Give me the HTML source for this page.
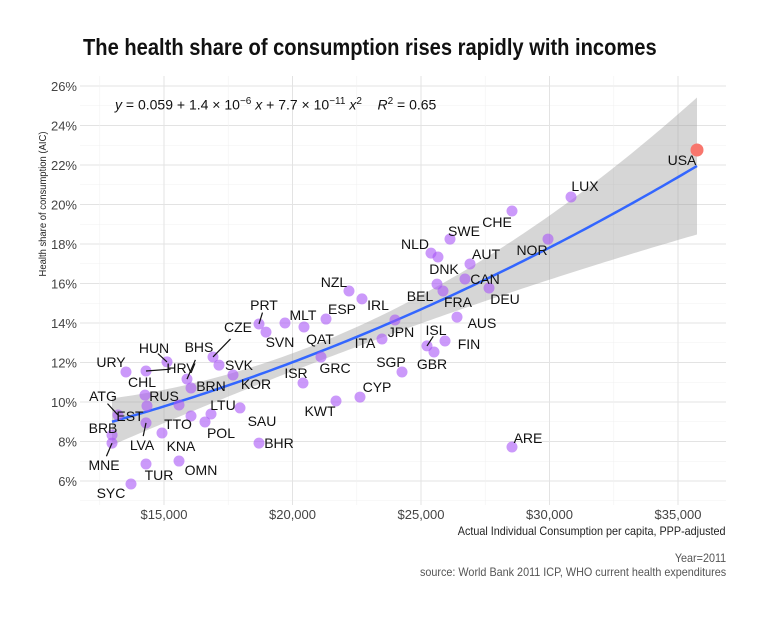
<!DOCTYPE html>
<html><head><meta charset="utf-8">
<style>
body{margin:0;background:#fff;width:766px;height:614px;overflow:hidden;font-family:"Liberation Sans",sans-serif}
svg text{font-family:"Liberation Sans",sans-serif}
.lab{font-family:"Liberation Sans",sans-serif;font-size:14px;fill:#111}
</style></head><body>
<svg id="chart" width="766" height="614"></svg>
<script>
const countries=["SYC","TUR","MNE","BRB","ATG","EST","CHL","LVA","URY","HRV","HUN","BHS","CZE","SVK","BRN","KOR","RUS","TTO","LTU","SAU","POL","KNA","OMN","BHR","ISR","PRT","SVN","MLT","QAT","ESP","GRC","NZL","IRL","JPN","ITA","KWT","CYP","SGP","ISL","GBR","FIN","AUS","FRA","BEL","NLD","DNK","SWE","AUT","CAN","DEU","CHE","NOR","ARE","LUX","USA"];
const aic=[13716,14300,12977,12977,13210,14338,14261,14300,13521,14300,15117,15895,16907,17140,16051,17685,15584,16051,16829,17957,16595,14922,15584,18696,20409,18696,18969,19708,20447,21304,21109,22198,22704,23988,23482,21693,22626,24261,25233,25506,25934,26401,25856,25623,25389,25661,26128,26907,26712,27646,28541,29942,28541,30837,35739];
const share=[5.85,6.86,7.92,8.33,9.34,9.80,10.35,8.94,11.52,11.57,12.03,11.16,12.28,11.87,10.71,11.37,9.85,9.29,9.39,9.70,8.99,8.43,7.01,7.92,10.96,13.95,13.54,14.0,13.80,14.20,12.28,15.62,15.22,14.15,13.19,10.05,10.25,11.52,12.84,12.53,13.09,14.30,15.62,15.97,17.54,17.34,18.25,16.99,16.23,15.77,19.67,18.25,7.72,20.38,22.76];
const labelDx=[-20,13,-8,-9,-15,-17,-3,-4,-15,35,-13,12,25,20,20,23,-15,-13,12,22,16,19,22,20,-7,5,14,18,16,16,14,-15,16,6,-17,-16,17,-11,9,-2,24,25,15,-17,-16,6,14,16,20,16,-15,-16,16,14,-15];
const labelDy=[9,11,22,-7,-19,10,-13,22,-10,-3,-14,-32,-30,0,-2,9,-9,8,-9,13,11,13,9,0,-10,-19,10,-8,12,-10,11,-9,6,12,4,10,-10,-10,-16,12,3,6,11,12,-9,12,-8,-10,0,11,11,11,-9,-11,10];
const leaders=["MNE","ATG","LVA","HRV","HUN","BHS","CZE","PRT","ISL"];
const yTicks=[6,8,10,12,14,16,18,20,22,24,26];
const xTicks=[15000,20000,25000,30000,35000];
const xTickLabels=["$15,000","$20,000","$25,000","$30,000","$35,000"];
const fitCoef=[5.744,0.1355,0.008897];

const NS="http://www.w3.org/2000/svg";
const svg=document.getElementById('chart');
function X(v){return 164+(v-15000)/1000*25.7;}
function Y(v){return 86+(26-v)*19.75;}
function el(t,a,p){const e=document.createElementNS(NS,t);for(const k in a)e.setAttribute(k,a[k]);(p||svg).appendChild(e);return e;}
const L=80,R=726,T=76,B=505;
const g=el('g',{});

for(let v=5;v<=27;v+=1){const y=Y(v);if(y<T||y>B)continue;const major=v%2===0;
 el('line',{x1:L,x2:R,y1:y,y2:y,stroke:major?'#e3e3e3':'#f1f1f1','stroke-width':major?1:0.6},g);}
for(let v=12500;v<=37500;v+=2500){const x=X(v);if(x<L||x>R)continue;const major=v%5000===0;
 el('line',{x1:x,x2:x,y1:T,y2:B,stroke:major?'#e3e3e3':'#f1f1f1','stroke-width':major?1:0.6},g);}
yTicks.forEach(v=>{const t=el('text',{x:77,y:Y(v)+5,'text-anchor':'end','font-size':13,fill:'#444'});t.textContent=v+'%';
});
xTicks.forEach((v,i)=>{const t=el('text',{x:X(v),y:519,'text-anchor':'middle','font-size':13,fill:'#444'});t.textContent=xTickLabels[i];
});
function fit(x){const u=x/1000;return fitCoef[0]+fitCoef[1]*u+fitCoef[2]*u*u;}
function half(x){const du=x/1000-20.5;return 0.45+0.013*du*du;}
let up=[],lo=[],ln=[];
for(let x=12977;x<=35739;x+=200){up.push(X(x)+','+Y(fit(x)+half(x)));lo.unshift(X(x)+','+Y(fit(x)-half(x)));ln.push(X(x)+','+Y(fit(x)));}
const xe=35739;up.push(X(xe)+','+Y(fit(xe)+half(xe)));lo.unshift(X(xe)+','+Y(fit(xe)-half(xe)));ln.push(X(xe)+','+Y(fit(xe)));
const band=el('polygon',{points:up.concat(lo).join(' '),fill:'#999',opacity:0.4});

const fl=el('polyline',{points:ln.join(' '),fill:'none',stroke:'#3366ff','stroke-width':2.5});

countries.forEach((c,i)=>{const usa=c==='USA';
 const p=el('circle',{cx:X(aic[i]),cy:Y(share[i]),r:usa?6.5:5.5,fill:usa?'#f8766d':'#a855f7','fill-opacity':usa?1:0.6});
 
});
countries.forEach((c,i)=>{const px=X(aic[i]),py=Y(share[i]);const lx=px+labelDx[i],ly=py+labelDy[i];
 if(leaders.includes(c)){el('line',{x1:px,y1:py,x2:px+labelDx[i]*0.7,y2:py+labelDy[i]*0.6,stroke:'#111','stroke-width':1.2});}
 const t=el('text',{x:lx,y:ly+5,'text-anchor':'middle',class:'lab'});t.textContent=c;
 
});
</script>
<div style="position:absolute;left:83px;top:34px;font-size:23px;font-weight:bold;color:#111;white-space:nowrap;transform:scaleX(0.875);transform-origin:0 0">The health share of consumption rises rapidly with incomes</div>
<div style="position:absolute;left:115px;top:96px;font-size:14px;color:#111"><i>y</i> = 0.059 + 1.4 × 10<sup style="font-size:10px">−6</sup> <i>x</i> + 7.7 × 10<sup style="font-size:10px">−11</sup> <i>x</i><sup style="font-size:10px">2</sup>&nbsp;&nbsp;&nbsp; <i>R</i><sup style="font-size:10px">2</sup> = 0.65</div>
<div style="position:absolute;left:-57px;top:198px;width:200px;text-align:center;font-size:10.5px;color:#222;transform:rotate(-90deg) scaleX(0.9)">Health share of consumption (AIC)</div>
<div style="position:absolute;right:40px;top:524px;font-size:12px;color:#222;transform:scaleX(0.9);transform-origin:100% 0;white-space:nowrap">Actual Individual Consumption per capita, PPP-adjusted</div>
<div style="position:absolute;right:40px;top:551px;font-size:12px;color:#555;text-align:right;line-height:14px;transform:scaleX(0.9);transform-origin:100% 0;white-space:nowrap">Year=2011<br>source: World Bank 2011 ICP, WHO current health expenditures</div>
</body></html>
